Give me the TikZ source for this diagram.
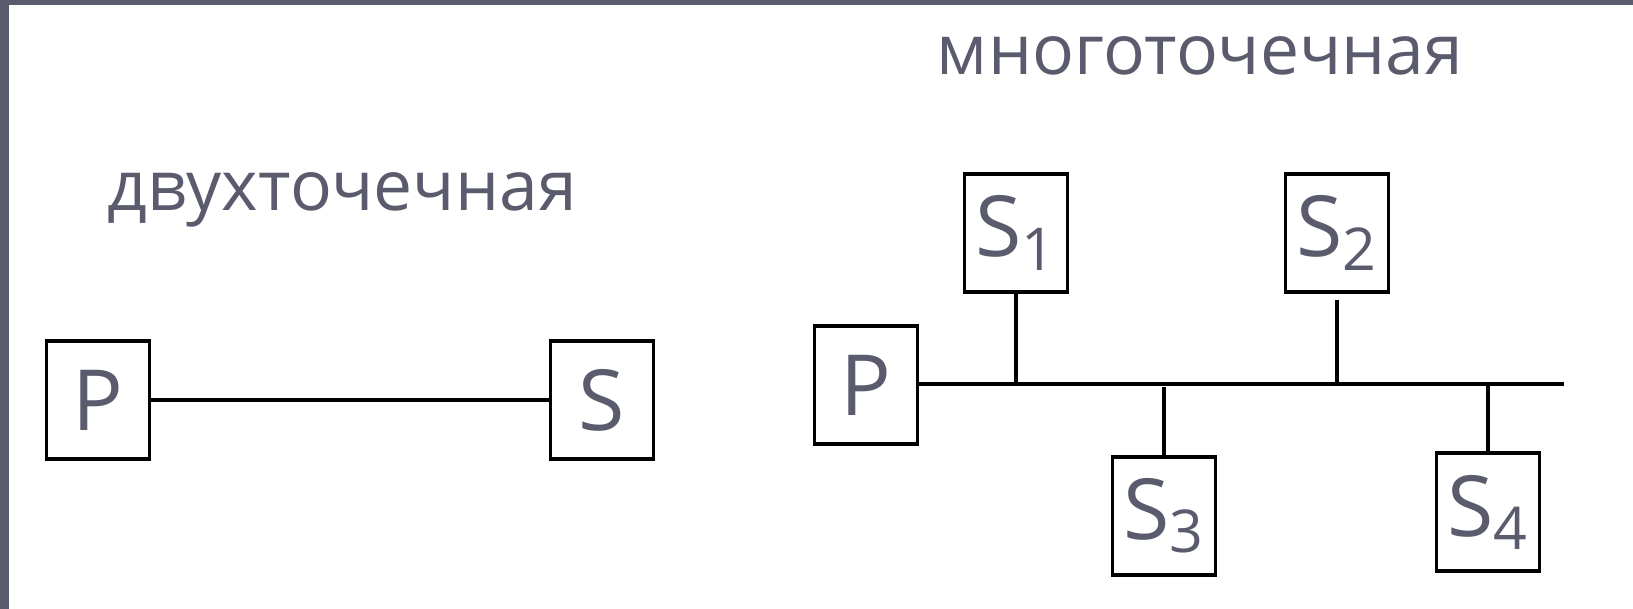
\documentclass[tikz,border=0pt]{standalone}
\usepackage{fontspec}
\setmainfont{Open Sans}
\usetikzlibrary{positioning}
\definecolor{Slate}{HTML}{5A5C6E}

\begin{document}
\begin{tikzpicture}[x=0.01cm,y=-0.01cm,
 unit/.style={draw=black,line width=0.9pt,inner sep=0pt,minimum width=1.03cm,
   minimum height=1.18cm,text=Slate,font=\fontsize{24}{26}\selectfont},
 title/.style={text=Slate,inner sep=0pt,font=\fontsize{19.8}{22}\selectfont},
 wire/.style={line width=0.9pt,draw=black}]
% frame
\useasboundingbox (0,0) rectangle (1633,609);
\fill[Slate] (0,0) rectangle (1633,5);
\fill[Slate] (0,0) rectangle (9,609);
% point-to-point link
\node[title] (pp) at (342,200) {двухточечная};
\node[unit] (p1) at (98,400) {P};
\node[unit] (s0) at (602,400) {S};
\draw[wire] (p1)--(s0);
% multipoint bus
\node[title] (mp) at (1200,56) {многоточечная};
\node[unit] (p2) at (866,385) {P};
\coordinate (busend) at (1564,384);
\node[unit] (s1) at (1016,233) {S\textsubscript{1}};
\node[unit] (s2) at (1337,233) {S\textsubscript{2}};
\node[unit] (s3) at (1164,516) {S\textsubscript{3}};
\node[unit] (s4) at (1488,512) {S\textsubscript{4}};
\draw[wire] (p2.east|-busend)--(busend);
\draw[wire] (s1.south)--(s1.south|-busend);
\draw[wire] ([yshift=-1.7pt]s2.south)--(s2.south|-busend);
\draw[wire] ([yshift=-0.85pt]s3.north|-busend)--(s3.north);
\draw[wire] (s4.north|-busend)--(s4.north);
\end{tikzpicture}
\end{document}
